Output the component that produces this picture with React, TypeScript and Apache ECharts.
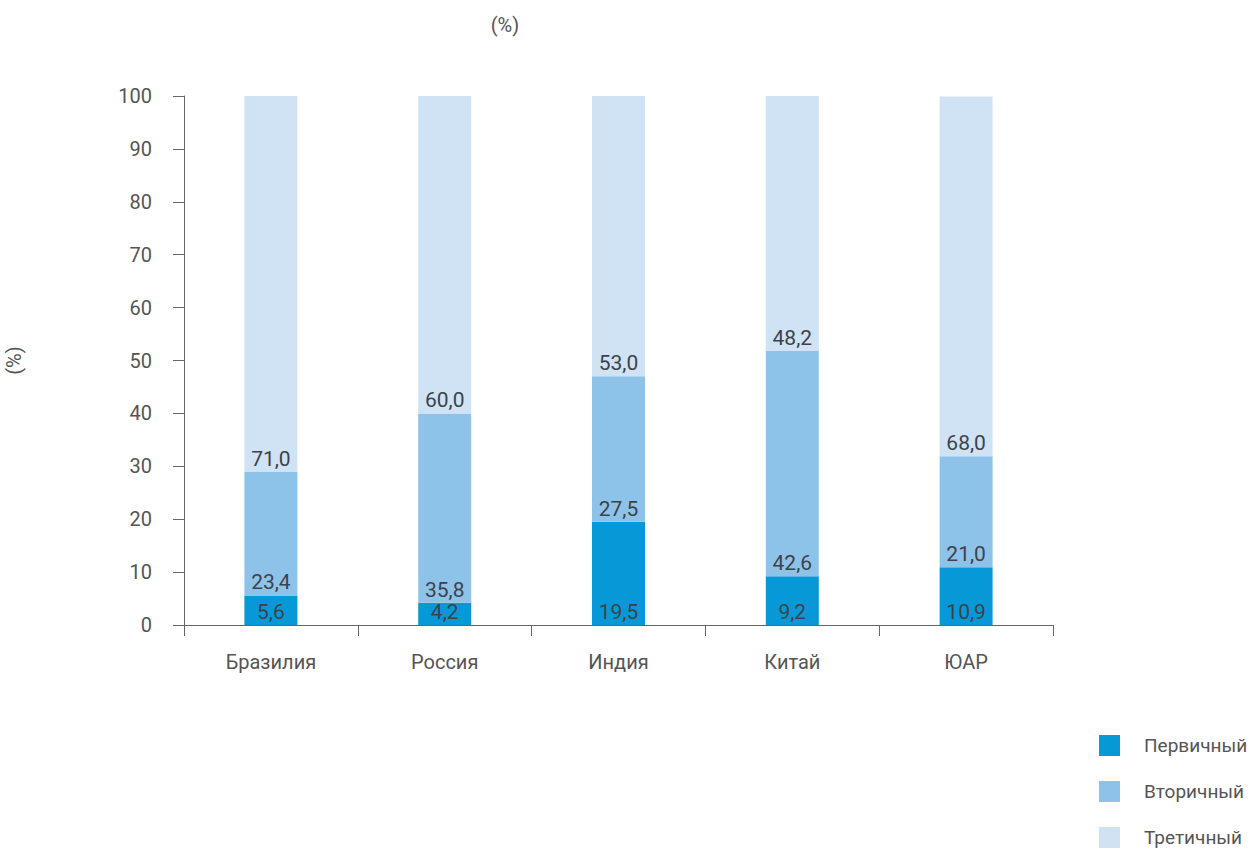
import React, { useEffect, useRef } from "react";
import * as echarts from "echarts";

const categories = ["Бразилия", "Россия", "Индия", "Китай", "ЮАР"];
const seriesNames = ["Первичный", "Вторичный", "Третичный"];
const primary = [5.6, 4.2, 19.5, 9.2, 10.9];
const secondary = [23.4, 35.8, 27.5, 42.6, 21.0];
const tertiary = [71.0, 60.0, 53.0, 48.2, 68.0];
const colors = ["#0799d7", "#8ec3e9", "#cfe3f4"];

const FONT = "Roboto";

export default function App() {
  const ref = useRef<HTMLDivElement>(null);
  useEffect(() => {
    if (!ref.current) return;
    const chart = echarts.init(ref.current, undefined, { renderer: "svg" });
    const mk = (name: string, data: number[], i: number) => ({
      name,
      type: "bar",
      stack: "total",
      barWidth: 53,
      data,
      itemStyle: { color: colors[i] },
      label: {
        show: true,
        position: "insideBottom",
        distance: 5,
        fontFamily: FONT,
        fontSize: 21,
        lineHeight: 16,
        color: "#3d424a",
        formatter: (p: any) => Number(p.value).toFixed(1).replace(".", ","),
      },
    });
    chart.setOption({
      animation: false,
      grid: {
        left: 184,
        right: 199,
        top: 96,
        bottom: 225,
        containLabel: false,
        outerBoundsMode: "none",
      },
      graphic: [
        {
          type: "text",
          x: 505,
          y: 25,
          style: {
            text: "(%)",
            fontFamily: FONT,
            fontSize: 20,
            fill: "#555",
            align: "center",
            verticalAlign: "middle",
          },
        },
      ],
      legend: {
        orient: "vertical",
        left: 1099,
        top: 735,
        padding: 0,
        itemWidth: 21,
        itemHeight: 21,
        itemGap: 25,
        icon: "rect",
        data: seriesNames,
        textStyle: {
          fontFamily: FONT,
          fontSize: 19,
          color: "#555",
          padding: [0, 0, 0, 19],
        },
      },
      xAxis: {
        type: "category",
        data: categories,
        axisLine: { show: true, lineStyle: { color: "#666", width: 1 } },
        axisTick: { show: true, length: 11, lineStyle: { color: "#666" } },
        axisLabel: {
          margin: 27,
          fontFamily: FONT,
          fontSize: 20,
          color: "#555",
        },
      },
      yAxis: {
        type: "value",
        min: 0,
        max: 100,
        interval: 10,
        name: "(%)",
        nameLocation: "middle",
        nameGap: 160,
        nameRotate: 90,
        nameTextStyle: { fontFamily: FONT, fontSize: 20, color: "#555" },
        axisLine: { show: true, lineStyle: { color: "#666", width: 1 } },
        axisTick: { show: true, length: 11, lineStyle: { color: "#666" } },
        splitLine: { show: false },
        axisLabel: {
          margin: 32,
          fontFamily: FONT,
          fontSize: 20,
          color: "#555",
        },
      },
      series: [
        mk(seriesNames[0], primary, 0),
        mk(seriesNames[1], secondary, 1),
        mk(seriesNames[2], tertiary, 2),
      ],
    });
    return () => chart.dispose();
  }, []);
  return (
    <div
      ref={ref}
      style={{ position: "fixed", left: 0, top: 0, width: 1252, height: 850, background: "#fff" }}
    />
  );
}
